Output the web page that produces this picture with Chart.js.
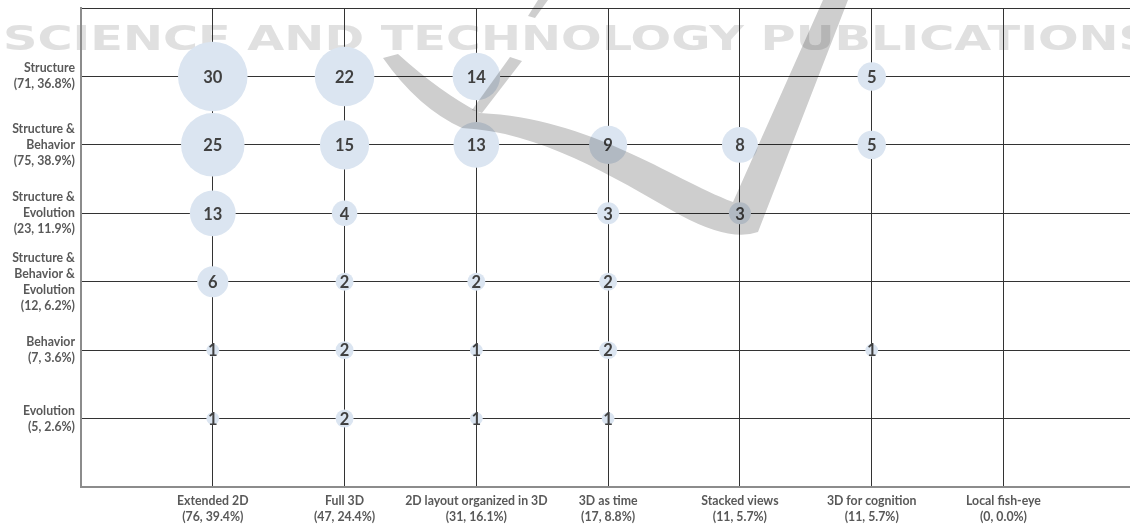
<!DOCTYPE html>
<html>
<head>
  <title>Bubble matrix</title>
  <script src="https://cdn.jsdelivr.net/npm/chart.js"></script>
  <style>
    body { margin: 0; background: #fff; }
    #wrap { width: 1130px; height: 528px; position: relative; }
  </style>
</head>
<body>
  <div id="wrap"><canvas id="matrix"></canvas></div>

  <script>
    // columns (x) and rows (y), with their totals
    const xLabels = [
      ["Extended 2D", "(76, 39.4%)"],
      ["Full 3D", "(47, 24.4%)"],
      ["2D layout organized in 3D", "(31, 16.1%)"],
      ["3D as time", "(17, 8.8%)"],
      ["Stacked views", "(11, 5.7%)"],
      ["3D for cognition", "(11, 5.7%)"],
      ["Local fish-eye", "(0, 0.0%)"]
    ];
    const yLabels = [
      ["Structure", "(71, 36.8%)"],
      ["Structure &", "Behavior", "(75, 38.9%)"],
      ["Structure &", "Evolution", "(23, 11.9%)"],
      ["Structure &", "Behavior &", "Evolution", "(12, 6.2%)"],
      ["Behavior", "(7, 3.6%)"],
      ["Evolution", "(5, 2.6%)"]
    ];
    // one row per yLabels entry, one value per xLabels entry
    const structure     = [30, 22, 14, null, null, 5, null];
    const structBehav   = [25, 15, 13, 9, 8, 5, null];
    const structEvol    = [13, 4, null, 3, 3, null, null];
    const structBehEvol = [6, 2, 2, 2, null, null, null];
    const behavior      = [1, 2, 1, 2, null, 1, null];
    const evolution     = [1, 2, 1, 1, null, null, null];
    const counts = [structure, structBehav, structEvol, structBehEvol, behavior, evolution];

    const points = [];
    counts.forEach((row, yi) => {
      row.forEach((v, xi) => {
        if (v) points.push({ x: xi, y: yi, r: 6.35 * Math.sqrt(v), v: v });
      });
    });

    const tickFont = { family: "Lato", weight: "bold", size: 12.3, lineHeight: "16px" };

    // numbers inside the bubbles
    const bubbleText = {
      id: "bubbleText",
      afterDatasetsDraw(chart) {
        const ctx = chart.ctx;
        const meta = chart.getDatasetMeta(0);
        ctx.save();
        ctx.font = "bold 16.5px Lato";
        ctx.fillStyle = "#404040";
        ctx.textAlign = "center";
        ctx.textBaseline = "middle";
        meta.data.forEach((el, i) => {
          ctx.fillText(String(points[i].v), el.x, el.y + 1);
        });
        ctx.restore();
      }
    };

    // publisher watermark: text behind, swoosh on top
    const watermark = {
      id: "watermark",
      beforeDraw(chart) {
        const ctx = chart.ctx;
        const txt = "SCIENCE AND TECHNOLOGY PUBLICATIONS";
        ctx.save();
        ctx.font = "bold 34px 'DejaVu Sans'";
        const w = ctx.measureText(txt).width;
        ctx.translate(3, 50);
        ctx.scale(1150 / w, 1);
        ctx.fillStyle = "#e0e0e0";
        ctx.fillText(txt, 0, 0);
        ctx.restore();
      },
      afterDraw(chart) {
        const ctx = chart.ctx;
        ctx.save();
        ctx.globalCompositeOperation = "multiply";
        ctx.fillStyle = "rgb(206,206,206)";
        ctx.beginPath();
        ctx.moveTo(383, 58);
        ctx.quadraticCurveTo(418, 108, 462, 128);
        ctx.bezierCurveTo(540, 132, 610, 175, 680, 215);
        ctx.quadraticCurveTo(730, 242, 758, 232);
        ctx.lineTo(848, 0);
        ctx.lineTo(823, 0);
        ctx.lineTo(733, 202);
        ctx.bezierCurveTo(670, 178, 590, 118, 480, 113);
        ctx.quadraticCurveTo(440, 92, 398, 54);
        ctx.closePath();
        ctx.fill();
        ctx.beginPath();
        ctx.moveTo(510, 57);
        ctx.lineTo(522, 61);
        ctx.lineTo(482, 113);
        ctx.lineTo(472, 110);
        ctx.closePath();
        ctx.fill();
        ctx.beginPath();
        ctx.moveTo(538, 0);
        ctx.lineTo(548, 0);
        ctx.lineTo(535, 18);
        ctx.lineTo(528, 16);
        ctx.closePath();
        ctx.fill();
        ctx.restore();
      }
    };

    new Chart(document.getElementById("matrix"), {
      type: "bubble",
      data: {
        datasets: [{
          data: points,
          backgroundColor: "rgb(219,229,241)",
          borderWidth: 0,
          hoverBorderWidth: 0
        }]
      },
      options: {
        responsive: true,
        maintainAspectRatio: false,
        animation: false,
        layout: { autoPadding: false, padding: { top: 8, right: 0, left: 0, bottom: 0 } },
        plugins: { legend: { display: false }, tooltip: { enabled: false } },
        scales: {
          x: {
            type: "linear",
            min: -1,
            max: 6.96,
            afterFit: s => { s.height = 41; s.paddingLeft = 0; s.paddingRight = 0; },
            afterBuildTicks: s => { s.ticks = s.ticks.filter(t => Number.isInteger(t.value)); },
            ticks: {
              stepSize: 1,
              autoSkip: false,
              maxRotation: 0,
              padding: 6,
              color: "#595959",
              font: tickFont,
              callback: v => xLabels[v] || ""
            },
            grid: { color: "#333", lineWidth: 1, drawTicks: false },
            border: { color: "#8c8c8c", width: 2 }
          },
          y: {
            type: "linear",
            reverse: true,
            min: -1,
            max: 6,
            afterFit: s => { s.width = 81; s.paddingTop = 0; s.paddingBottom = 0; },
            ticks: {
              stepSize: 1,
              autoSkip: false,
              padding: 6,
              color: "#595959",
              font: tickFont,
              callback: v => yLabels[v] || ""
            },
            grid: { color: "#333", lineWidth: 1, drawTicks: false },
            border: { color: "#8c8c8c", width: 2 }
          }
        }
      },
      plugins: [watermark, bubbleText]
    });
  </script>
</body>
</html>
